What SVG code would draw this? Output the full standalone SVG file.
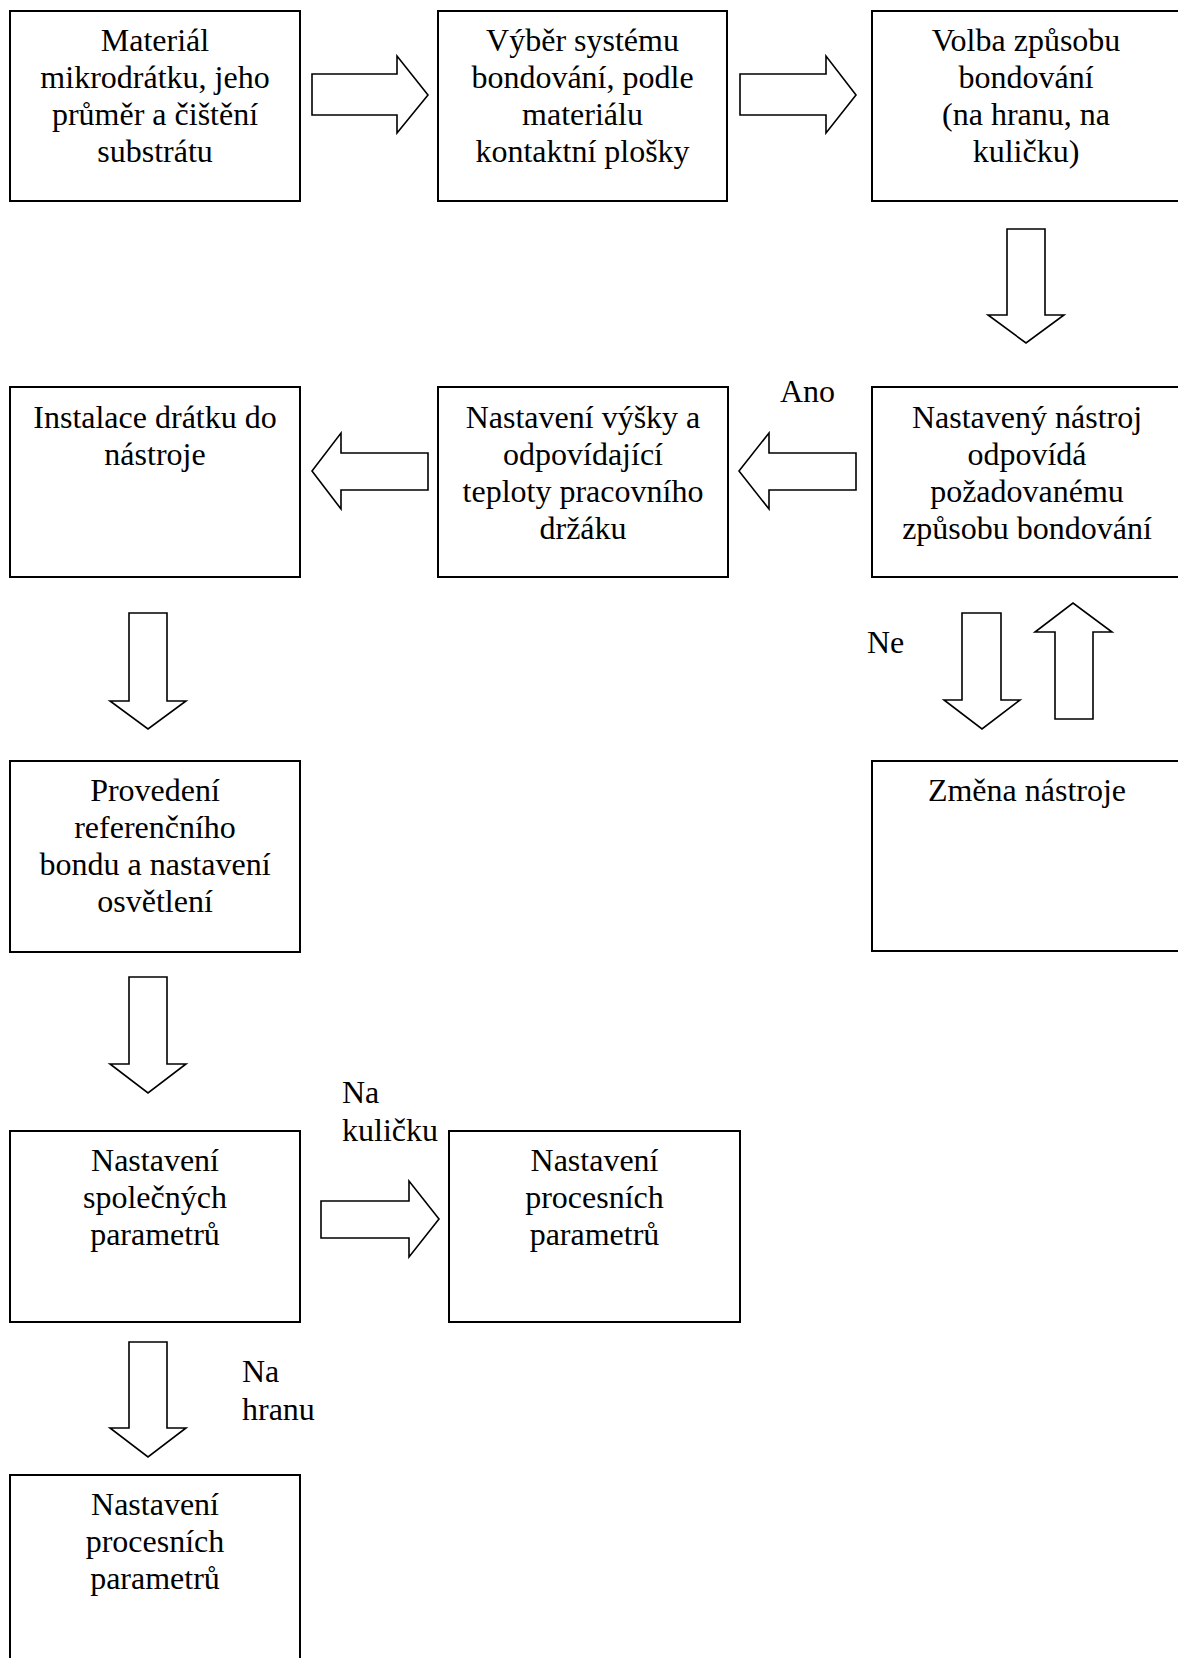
<svg xmlns="http://www.w3.org/2000/svg" width="1178" height="1658" viewBox="0 0 1178 1658">
<style>
.box{fill:#fff;stroke:#000;stroke-width:2}
.arr{fill:#fff;stroke:#000;stroke-width:1.6;stroke-linejoin:miter}
text{font-family:"Liberation Serif","Times New Roman",serif;font-size:32px;fill:#000}
.c{text-anchor:middle}
</style>
<rect width="1178" height="1658" fill="#fff"/>
<g id="connectors">
<polygon class="arr" points="312,74 397,74 397,56 428,95 397,133 397,115 312,115"/>
<polygon class="arr" points="740,74 826,74 826,56 856,95 826,133 826,115 740,115"/>
<polygon class="arr" points="1007,229 1045,229 1045,315 1064,315 1026,343 988,315 1007,315"/>
<polygon class="arr" points="856,453 769,453 769,433 739,471 769,509 769,490 856,490"/>
<polygon class="arr" points="428,453 341,453 341,433 312,471 341,509 341,490 428,490"/>
<polygon class="arr" points="962,613 1001,613 1001,700 1020,700 982,729 944,700 962,700"/>
<polygon class="arr" points="1055,719 1093,719 1093,632 1112,632 1073,603 1035,632 1055,632"/>
<polygon class="arr" points="129,613 167,613 167,701 186,701 148,729 110,701 129,701"/>
<polygon class="arr" points="129,977 167,977 167,1064 186,1064 148,1093 110,1064 129,1064"/>
<polygon class="arr" points="321,1201 409,1201 409,1181 439,1219 409,1257 409,1238 321,1238"/>
<polygon class="arr" points="129,1342 167,1342 167,1428 186,1428 148,1457 110,1428 129,1428"/>
<text x="780" y="402">Ano</text>
<text x="867" y="653">Ne</text>
<text x="342" y="1103">Na</text>
<text x="342" y="1141">kuličku</text>
<text x="242" y="1382">Na</text>
<text x="242" y="1420">hranu</text>
</g>
<g id="n1"><rect class="box" x="10" y="11" width="290" height="190"/>
<text class="c" x="155" y="51">Materiál<tspan x="155" dy="37">mikrodrátku, jeho</tspan><tspan x="155" dy="37">průměr a čištění</tspan><tspan x="155" dy="37">substrátu</tspan></text></g>
<g id="n2"><rect class="box" x="438" y="11" width="289" height="190"/>
<text class="c" x="582.5" y="51">Výběr systému<tspan x="582.5" dy="37">bondování, podle</tspan><tspan x="582.5" dy="37">materiálu</tspan><tspan x="582.5" dy="37">kontaktní plošky</tspan></text></g>
<g id="n3"><rect class="box" x="872" y="11" width="310" height="190"/>
<text class="c" x="1026" y="51">Volba způsobu<tspan x="1026" dy="37">bondování</tspan><tspan x="1026" dy="37">(na hranu, na</tspan><tspan x="1026" dy="37">kuličku)</tspan></text></g>
<g id="n4"><rect class="box" x="10" y="387" width="290" height="190"/>
<text class="c" x="155" y="428">Instalace drátku do<tspan x="155" dy="37">nástroje</tspan></text></g>
<g id="n5"><rect class="box" x="438" y="387" width="290" height="190"/>
<text class="c" x="583" y="428">Nastavení výšky a<tspan x="583" dy="37">odpovídající</tspan><tspan x="583" dy="37">teploty pracovního</tspan><tspan x="583" dy="37">držáku</tspan></text></g>
<g id="n6"><rect class="box" x="872" y="387" width="310" height="190"/>
<text class="c" x="1027" y="428">Nastavený nástroj<tspan x="1027" dy="37">odpovídá</tspan><tspan x="1027" dy="37">požadovanému</tspan><tspan x="1027" dy="37">způsobu bondování</tspan></text></g>
<g id="n7"><rect class="box" x="10" y="761" width="290" height="191"/>
<text class="c" x="155" y="801">Provedení<tspan x="155" dy="37">referenčního</tspan><tspan x="155" dy="37">bondu a nastavení</tspan><tspan x="155" dy="37">osvětlení</tspan></text></g>
<g id="n8"><rect class="box" x="872" y="761" width="310" height="190"/>
<text class="c" x="1027" y="801">Změna nástroje</text></g>
<g id="n9"><rect class="box" x="10" y="1131" width="290" height="191"/>
<text class="c" x="155" y="1171">Nastavení<tspan x="155" dy="37">společných</tspan><tspan x="155" dy="37">parametrů</tspan></text></g>
<g id="n10"><rect class="box" x="449" y="1131" width="291" height="191"/>
<text class="c" x="594.5" y="1171">Nastavení<tspan x="594.5" dy="37">procesních</tspan><tspan x="594.5" dy="37">parametrů</tspan></text></g>
<g id="n11"><rect class="box" x="10" y="1475" width="290" height="200"/>
<text class="c" x="155" y="1515">Nastavení<tspan x="155" dy="37">procesních</tspan><tspan x="155" dy="37">parametrů</tspan></text></g>
</svg>
